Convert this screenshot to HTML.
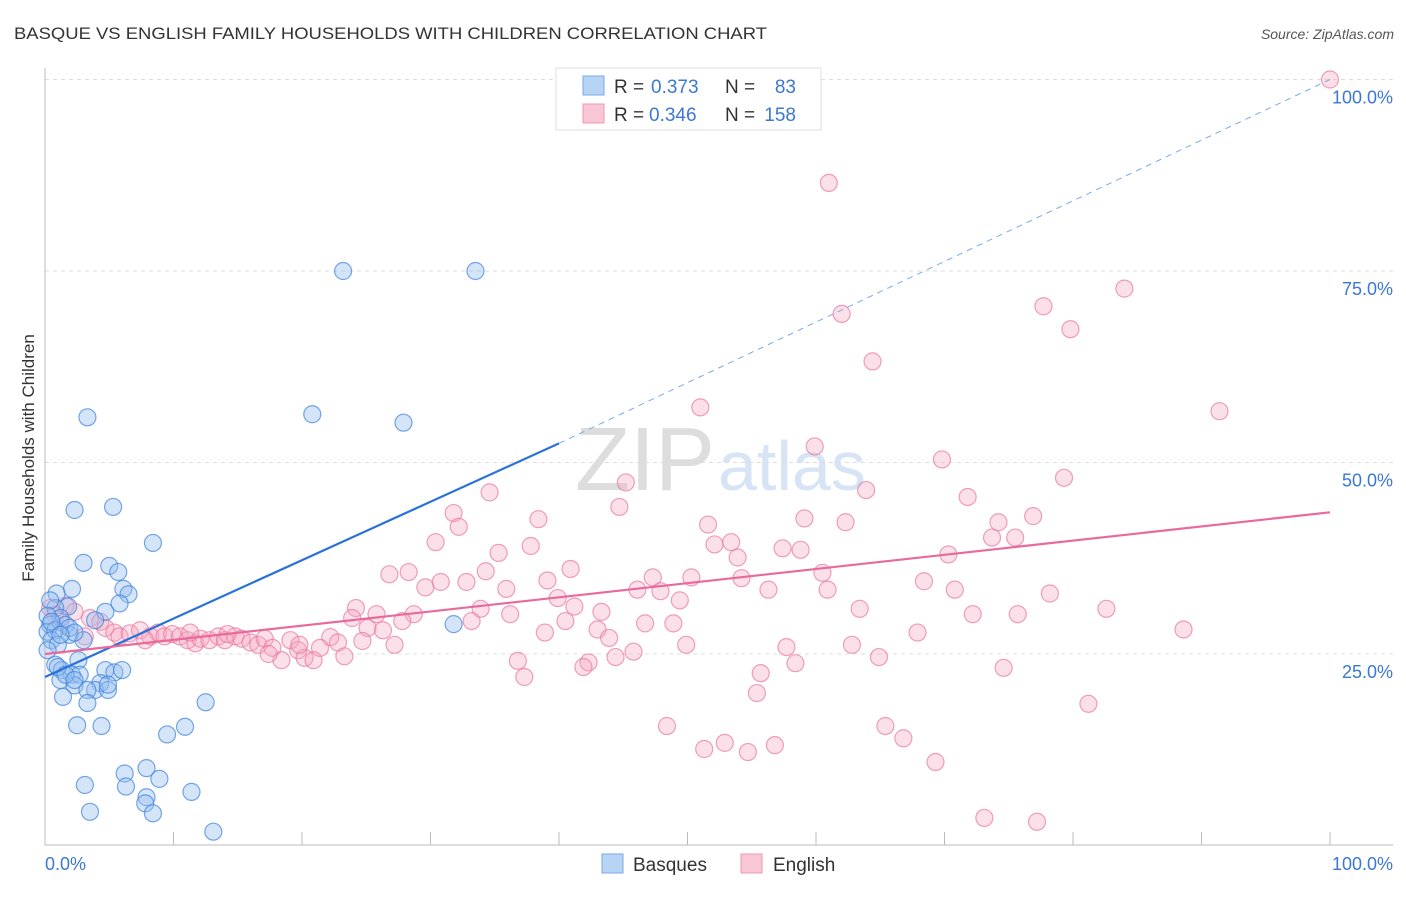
<!DOCTYPE html>
<html><head><meta charset="utf-8"><style>
body{margin:0;background:#fff;font-family:"Liberation Sans",sans-serif}
svg text{font-family:"Liberation Sans",sans-serif}
</style></head><body>
<svg id="c" width="1406" height="892">
<text x="14" y="39" font-size="17" fill="#333" textLength="753" lengthAdjust="spacingAndGlyphs">BASQUE VS ENGLISH FAMILY HOUSEHOLDS WITH CHILDREN CORRELATION CHART</text>
<text x="1394" y="39" font-size="14" fill="#555" font-style="italic" text-anchor="end">Source: ZipAtlas.com</text>
<text x="34" y="458" font-size="17" fill="#333" text-anchor="middle" transform="rotate(-90 34 458)">Family Households with Children</text>
<text x="715" y="490" font-size="90" fill="#ddd" text-anchor="end" font-family="Liberation Serif">ZIP</text>
<text x="718" y="490" font-size="70" fill="#d6e4f5">atlas</text>
<g id="grid"></g><g id="pts"></g><g id="lines"></g>
<g>
<rect x="556" y="68" width="265" height="62" fill="#fff" stroke="#ddd"/>
<rect x="583" y="76" width="21" height="19" fill="#b8d4f5" stroke="#7aaae8"/>
<rect x="583" y="104" width="21" height="19" fill="#f9c6d6" stroke="#ee97b5"/>
<text x="614" y="93" font-size="19" fill="#333">R =</text>
<text x="651" y="93" font-size="19" fill="#3a78d4">0.373</text>
<text x="725" y="93" font-size="19" fill="#333">N =</text>
<text x="796" y="93" font-size="19" fill="#3a78d4" text-anchor="end">83</text>
<text x="614" y="121" font-size="19" fill="#333">R =</text>
<text x="649" y="121" font-size="19" fill="#3a78d4">0.346</text>
<text x="725" y="121" font-size="19" fill="#333">N =</text>
<text x="796" y="121" font-size="19" fill="#3a78d4" text-anchor="end">158</text>
</g>
<g>
<rect x="602" y="854" width="21" height="19" fill="#b8d4f5" stroke="#7aaae8"/>
<text x="633" y="871" font-size="19" fill="#333">Basques</text>
<rect x="741" y="854" width="21" height="19" fill="#f9c6d6" stroke="#ee97b5"/>
<text x="773" y="871" font-size="19" fill="#333">English</text>
</g>
<text x="45" y="870" font-size="18" fill="#3a78d4">0.0%</text>
<text x="1393" y="870" font-size="18" fill="#3a78d4" text-anchor="end">100.0%</text>
</svg>
<script>
const blueX=[23.2,33.5,20.8,27.9,3.3,5.3,2.3,8.4,3.0,5.0,5.7,2.1,6.1,6.5,0.9,5.8,1.8,4.7,0.8,1.2,3.9,31.8,0.4,1.6,0.2,0.8,1.9,0.5,3.0,1.0,0.8,2.6,1.3,2.1,2.7,1.2,2.3,4.7,5.4,6.0,4.3,3.9,4.9,3.3,1.4,3.3,12.5,2.5,4.4,10.9,9.5,7.9,6.2,8.9,6.3,3.1,11.4,7.9,7.8,8.4,3.5,13.1,0.4,0.2,0.5,1.9,2.3,1.2,0.2,1.0,1.6,2.3,4.9];
const blueY=[75.0,75.0,56.3,55.2,55.9,44.2,43.8,39.5,36.9,36.5,35.7,33.5,33.5,32.8,32.9,31.6,31.2,30.5,31.0,29.7,29.4,28.9,28.8,28.8,27.9,28.1,27.5,26.8,26.8,26.2,23.6,24.2,22.9,22.3,22.3,21.6,20.9,22.9,22.6,22.9,21.2,20.3,20.3,20.3,19.4,18.6,18.7,15.7,15.6,15.5,14.5,10.1,9.4,8.7,7.7,7.9,7.0,6.3,5.5,4.2,4.4,1.8,32,30,29.2,28.4,27.8,27.5,25.5,23.3,22.3,21.6,21.0];
const pinkX=[100,61.0,62.0,77.7,84.0,79.8,64.4,51.0,91.4,59.9,69.8,79.3,63.9,34.6,71.8,45.2,44.7,31.8,38.4,59.1,62.3,76.9,74.2,32.2,51.6,30.4,52.1,53.4,37.8,35.3,57.4,58.8,73.7,75.5,53.9,70.3,40.9,26.8,28.3,34.3,39.1,47.3,50.3,54.2,60.5,68.4,29.6,30.8,32.8,35.9,46.1,47.9,56.3,60.9,70.8,78.2,39.9,49.4,41.2,24.2,82.6,63.4,33.9,43.3,23.9,25.8,36.2,28.7,72.2,75.7,33.2,40.5,46.7,48.9,27.8,25.1,26.3,38.9,43.0,67.9,88.6,22.2,43.9,24.7,27.2,49.9,57.7,62.8,45.8,44.4,64.9,36.8,58.4,42.3,41.9,74.6,55.7,37.3,55.4,81.2,48.4,65.4,66.8,52.9,51.3,56.8,54.7,69.3,73.1,77.2,0.4,0.8,1.6,2.3,3.5,4.3,4.7,5.4,5.8,6.6,7.4,8.2,8.8,9.3,9.9,10.5,11.1,11.7,12.1,12.8,13.5,14.0,14.8,15.3,16.0,16.6,17.1,17.7,18.4,19.1,19.7,20.2,20.9,21.4,22.8,23.3,3.1,1.2,7.8,11.3,14.2,17.4,19.8];
const pinkY=[100,86.5,69.4,70.4,72.7,67.4,63.2,57.2,56.7,52.1,50.4,48.0,46.4,46.1,45.5,47.4,44.2,43.4,42.6,42.7,42.2,43.0,42.2,41.6,41.9,39.6,39.3,39.6,39.1,38.2,38.8,38.6,40.2,40.2,37.6,38.0,36.1,35.4,35.7,35.8,34.6,35.0,35.0,34.9,35.6,34.5,33.7,34.4,34.4,33.5,33.4,33.2,33.4,33.4,33.4,32.9,32.3,32.0,31.2,31.0,30.9,30.9,30.9,30.5,29.7,30.2,30.2,30.2,30.2,30.2,29.3,29.3,29.0,29.0,29.3,28.4,28.1,27.8,28.2,27.8,28.2,27.2,27.1,26.7,26.2,26.2,25.9,26.2,25.3,24.6,24.6,24.1,23.8,23.9,23.3,23.2,22.5,22.0,19.9,18.5,15.6,15.6,14.0,13.4,12.6,13.1,12.2,10.9,3.6,3.1,31,30.1,31.3,30.5,29.7,29.2,28.4,27.8,27.3,27.7,28.1,27.3,27.8,27.3,27.6,27.3,26.8,26.4,27.0,26.8,27.3,26.8,27.3,27.0,26.5,26.2,27.0,25.8,24.2,26.8,25.5,24.5,24.2,25.8,26.5,24.7,27.3,29.2,26.8,27.8,27.6,25.0,26.2];
const yTicks=[25,50,75,100];
const yTickLabels=["25.0%","50.0%","75.0%","100.0%"];
const blueTrend=[22.0,52.5,100];
const pinkTrend=[25.0,43.5];
const NS="http://www.w3.org/2000/svg";
const X=v=>45+v*12.85, Y=v=>845.5-v*7.66;
function mk(t,a,p){const e=document.createElementNS(NS,t);for(const k in a)e.setAttribute(k,a[k]);p.appendChild(e);return e;}
const g=document.getElementById('grid');
yTicks.forEach((t,i)=>{const l=mk('line',{x1:45,x2:1393,y1:Y(t),y2:Y(t),stroke:'#ddd','stroke-dasharray':'4,4'},g);


const tx=mk('text',{x:1393,y:Y(t)+24,'font-size':18,fill:'#3a78d4','text-anchor':'end'},g);tx.textContent=yTickLabels[i];

});
mk('line',{x1:45,x2:45,y1:68,y2:845,stroke:'#bbb'},g);
mk('line',{x1:45,x2:1393,y1:845,y2:845,stroke:'#bbb'},g);
for(let i=1;i<=10;i++){mk('line',{x1:45+i*128.5,x2:45+i*128.5,y1:832,y2:845,stroke:'#bbb'},g);}
const p=document.getElementById('pts');
pinkX.forEach((v,i)=>{const c=mk('circle',{cx:X(v),cy:Y(pinkY[i]),r:8.5,fill:'rgba(246,166,192,0.35)',stroke:'rgba(232,120,160,0.7)','stroke-width':1.2},p);

});
blueX.forEach((v,i)=>{const c=mk('circle',{cx:X(v),cy:Y(blueY[i]),r:8.5,fill:'rgba(150,190,240,0.4)',stroke:'rgba(60,130,220,0.7)','stroke-width':1.2},p);

});
const L=document.getElementById('lines');
let e=mk('line',{x1:X(0),y1:Y(blueTrend[0]),x2:X(40),y2:Y(blueTrend[1]),stroke:'#2a72d8','stroke-width':2.2},L);


e=mk('line',{x1:X(40),y1:Y(blueTrend[1]),x2:X(100),y2:Y(blueTrend[2]),stroke:'#7aaae8','stroke-width':1,'stroke-dasharray':'6,5'},L);


e=mk('line',{x1:X(0),y1:Y(pinkTrend[0]),x2:X(100),y2:Y(pinkTrend[1]),stroke:'#e8699a','stroke-width':2.2},L);


</script>
</body></html>
